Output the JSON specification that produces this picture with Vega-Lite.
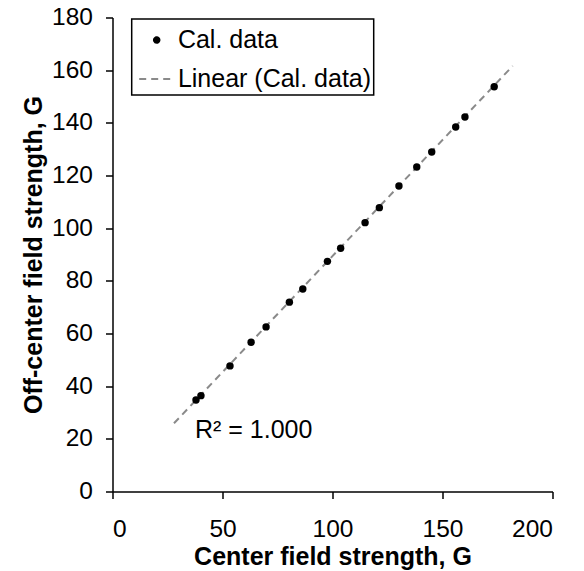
{
  "$schema": "https://vega.github.io/schema/vega-lite/v6.json",
  "width": 440,
  "height": 474,
  "autosize": "none",
  "padding": {"left": 112.5, "top": 17.5, "right": 31.5, "bottom": 79.5},
  "background": "white",
  "config": {
    "view": {"stroke": null},
    "font": "Liberation Sans",
    "axis": {
      "grid": false,
      "domainColor": "black",
      "domainWidth": 1.5,
      "tickColor": "black",
      "tickWidth": 1.5,
      "tickSize": 7,
      "labelFont": "Liberation Sans",
      "labelFontSize": 24.5,
      "labelColor": "black",
      "titleFont": "Liberation Sans",
      "titleFontSize": 25,
      "titleFontWeight": "bold",
      "titleColor": "black"
    }
  },
  "datasets": {
    "points": [
      {"center": 37.95, "off": 34.75, "series": "Cal. data"},
      {"center": 40.2, "off": 36.4, "series": "Cal. data"},
      {"center": 53.4, "off": 47.7, "series": "Cal. data"},
      {"center": 63.0, "off": 56.7, "series": "Cal. data"},
      {"center": 69.8, "off": 62.5, "series": "Cal. data"},
      {"center": 80.4, "off": 71.9, "series": "Cal. data"},
      {"center": 86.5, "off": 76.9, "series": "Cal. data"},
      {"center": 97.7, "off": 87.4, "series": "Cal. data"},
      {"center": 103.7, "off": 92.4, "series": "Cal. data"},
      {"center": 114.8, "off": 102.1, "series": "Cal. data"},
      {"center": 121.3, "off": 107.8, "series": "Cal. data"},
      {"center": 130.2, "off": 116.0, "series": "Cal. data"},
      {"center": 138.3, "off": 123.2, "series": "Cal. data"},
      {"center": 145.1, "off": 128.9, "series": "Cal. data"},
      {"center": 156.0, "off": 138.4, "series": "Cal. data"},
      {"center": 160.2, "off": 142.2, "series": "Cal. data"},
      {"center": 173.5, "off": 153.7, "series": "Cal. data"}
    ],
    "trend": [
      {"center": 27.95, "off": 25.9, "series": "Linear (Cal. data)"},
      {"center": 181.9, "off": 161.6, "series": "Linear (Cal. data)"}
    ],
    "note": [
      {"center": 37.5, "off": 20.2, "label": "R² = 1.000"}
    ]
  },
  "layer": [
    {
      "data": {"name": "trend"},
      "mark": {"type": "line", "strokeWidth": 2},
      "encoding": {
        "x": {"field": "center", "type": "quantitative", "scale": {"domain": [0, 200], "nice": false}, "axis": {"values": [0, 50, 100, 150, 200], "title": "Center field strength, G", "labelPadding": 19, "titlePadding": 3}},
        "y": {"field": "off", "type": "quantitative", "scale": {"domain": [0, 180], "nice": false}, "axis": {"values": [0, 20, 40, 60, 80, 100, 120, 140, 160, 180], "title": "Off-center field strength, G", "labelPadding": 13, "titlePadding": 5}},
        "color": {
          "field": "series", "type": "nominal",
          "scale": {"domain": ["Cal. data", "Linear (Cal. data)"], "range": ["black", "#8a8a8a"]},
          "legend": {
            "title": null,
            "orient": "none",
            "legendX": 19.2,
            "legendY": 1.5,
            "strokeColor": "black",
            "fillColor": "white",
            "padding": 2.5,
            "labelFont": "Liberation Sans",
            "labelFontSize": 25,
            "labelColor": "black",
            "labelLimit": 0,
            "labelOffset": 2.7,
            "symbolOffset": 4,
            "rowPadding": 7,
            "symbolSize": 1225,
            "encode": {
              "legend": {"update": {"strokeWidth": {"value": 1.5}}},
              "symbols": {
                "update": {
                  "shape": {"signal": "datum.value === 'Cal. data' ? 'circle' : 'stroke'"},
                  "fill": {"signal": "datum.value === 'Cal. data' ? 'black' : 'transparent'"},
                  "stroke": {"signal": "datum.value === 'Cal. data' ? 'black' : '#8a8a8a'"},
                  "strokeWidth": {"value": 2},
                  "strokeDash": {"signal": "datum.value === 'Cal. data' ? [1,0] : [7,5]"},
                  "size": {"signal": "datum.value === 'Cal. data' ? 30 : 1225"},
                  "opacity": {"value": 1}
                }
              }
            }
          }
        },
        "strokeDash": {"field": "series", "type": "nominal", "scale": {"domain": ["Cal. data", "Linear (Cal. data)"], "range": [[1, 0], [7, 5]]}}
      }
    },
    {
      "data": {"name": "points"},
      "mark": {"type": "point", "filled": true, "opacity": 1, "size": 55},
      "encoding": {
        "x": {"field": "center", "type": "quantitative"},
        "y": {"field": "off", "type": "quantitative"},
        "color": {"field": "series", "type": "nominal"}
      }
    },
    {
      "data": {"name": "note"},
      "mark": {"type": "text", "align": "left", "baseline": "alphabetic", "fontSize": 25, "font": "Liberation Sans", "color": "black"},
      "encoding": {
        "x": {"field": "center", "type": "quantitative"},
        "y": {"field": "off", "type": "quantitative"},
        "text": {"field": "label"}
      }
    }
  ]
}
